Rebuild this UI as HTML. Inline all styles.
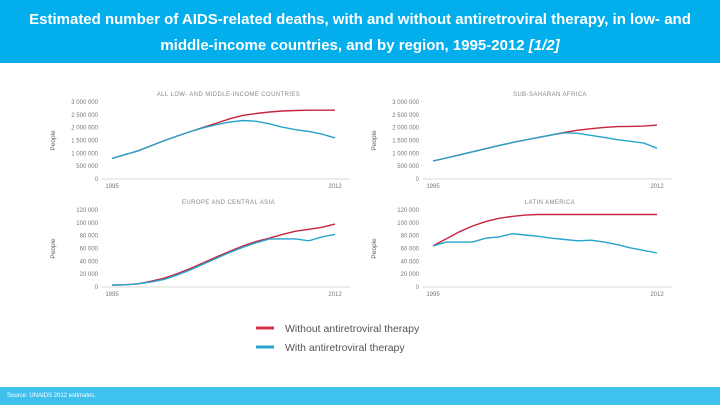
<!DOCTYPE html>
<html><head><meta charset="utf-8">
<style>
body{margin:0;width:720px;height:405px;overflow:hidden;background:#fff;font-family:"Liberation Sans",sans-serif;position:relative}
#hdr{position:absolute;left:0;top:0;width:720px;height:63px;background:#02aeec;color:#fff;text-align:center;font-family:"Liberation Sans","Noto Sans CJK JP",sans-serif;font-size:15px;line-height:26px;padding-top:7px;box-sizing:border-box;font-weight:bold}
#ftr{position:absolute;left:0;top:387px;width:720px;height:18px;background:#3fc1ee;color:#fff;font-size:6px;line-height:18px;padding-left:7px;box-sizing:border-box}
svg{position:absolute;left:0;top:0}
</style></head><body>
<div id="hdr">Estimated number of AIDS-related deaths, with and without antiretroviral therapy, in low- and<br>middle-income countries, and by region, 1995-2012 <i>[1/2]</i></div>
<svg id="chart" width="720" height="405"></svg>
<div id="ftr">Source: UNAIDS 2012 estimates.</div>
<script>
const years=[1995,1996,1997,1998,1999,2000,2001,2002,2003,2004,2005,2006,2007,2008,2009,2010,2011,2012];
const allWithout=[800000,950000,1100000,1300000,1500000,1680000,1850000,2020000,2180000,2350000,2480000,2550000,2610000,2650000,2670000,2680000,2680000,2680000];
const allWith=[800000,950000,1100000,1300000,1500000,1680000,1850000,2000000,2120000,2220000,2280000,2250000,2150000,2020000,1920000,1850000,1750000,1600000];
const ssaWithout=[700000,820000,940000,1060000,1180000,1300000,1420000,1520000,1620000,1720000,1820000,1900000,1960000,2010000,2040000,2050000,2060000,2100000];
const ssaWith=[700000,820000,940000,1060000,1180000,1300000,1420000,1520000,1620000,1720000,1800000,1780000,1700000,1620000,1530000,1470000,1400000,1200000];
const eurWithout=[3000,3500,5000,9000,14000,21000,29000,38000,47000,56000,64000,71000,76000,82000,87000,90000,93000,98000];
const eurWith=[3000,3500,5000,8000,12000,19000,27000,36000,45000,54000,62000,69000,75000,75000,75000,72000,78000,82000];
const laWithout=[64000,75000,86000,95000,102000,107000,110000,112000,113000,113000,113000,113000,113000,113000,113000,113000,113000,113000];
const laWith=[64000,70000,70000,70000,76000,78000,83000,81000,79000,76000,74000,72000,73000,70000,66000,61000,57000,53000];
const bigTicks=["3 000 000","2 500 000","2 000 000","1 500 000","1 000 000","500 000","0"];
const smallTicks=["120 000","100 000","80 000","60 000","40 000","20 000","0"];
const panels=[
 {name:"all-low-middle-income",title:"ALL LOW- AND MIDDLE-INCOME COUNTRIES",x0:112,x1:335,yTop:102,yBot:179,max:3000000,ticks:bigTicks,a:allWithout,b:allWith},
 {name:"sub-saharan-africa",title:"SUB-SAHARAN AFRICA",x0:433,x1:657,yTop:102,yBot:179,max:3000000,ticks:bigTicks,a:ssaWithout,b:ssaWith},
 {name:"europe-central-asia",title:"EUROPE AND CENTRAL ASIA",x0:112,x1:335,yTop:210,yBot:287,max:120000,ticks:smallTicks,a:eurWithout,b:eurWith},
 {name:"latin-america",title:"LATIN AMERICA",x0:433,x1:657,yTop:210,yBot:287,max:120000,ticks:smallTicks,a:laWithout,b:laWith}
];
const NS="http://www.w3.org/2000/svg",svg=document.getElementById('chart');
function mk(t,at,txt){const e=document.createElementNS(NS,t);for(const k in at)e.setAttribute(k,at[k]);if(txt!==undefined)e.textContent=txt;svg.appendChild(e);return e;}
panels.forEach(p=>{
 const xs=i=>p.x0+(p.x1-p.x0)*i/(years.length-1);
 const ys=v=>p.yBot-(p.yBot-p.yTop)*v/p.max;
 let t=mk('text',{x:(p.x0+p.x1)/2+5,y:p.yTop-6,'font-size':6,fill:'#888','text-anchor':'middle','letter-spacing':'0.4'},p.title);
 
 
 let yl=mk('text',{x:0,y:0,'font-size':6.5,fill:'#666','text-anchor':'middle',transform:`translate(${p.x0-57},${(p.yTop+p.yBot)/2}) rotate(-90)`},'People');
 
 
 p.ticks.forEach((lab,i)=>{
  const v=p.max*(1-i/(p.ticks.length-1));
  let e=mk('text',{x:p.x0-14,y:ys(v)+2,'font-size':6,fill:'#777','text-anchor':'end'},lab);
  
  
 });
 let ax=mk('line',{x1:p.x0-10,x2:p.x1+15,y1:p.yBot,y2:p.yBot,stroke:'#ccc','stroke-width':0.8});
 
 
 [[0,'1995'],[years.length-1,'2012']].forEach(([i,l])=>{
  let e=mk('text',{x:xs(i),y:p.yBot+9,'font-size':6,fill:'#777','text-anchor':'middle'},l);
  
  
 });
 [[p.a,'#c8243c','without-art-line'],[p.b,'#25a4cd','with-art-line']].forEach(([arr,c,n])=>{
  const d=arr.map((v,i)=>(i?'L':'M')+xs(i).toFixed(1)+' '+ys(v).toFixed(1)).join(' ');
  let e=mk('path',{d:d,fill:'none',stroke:c,'stroke-width':1.4});
  
  
 });
});
[['#d2334a','Without antiretroviral therapy',328,'legend-without-art'],['#2aa3cc','With antiretroviral therapy',347,'legend-with-art']].forEach(([c,l,y,n])=>{
 let r=mk('rect',{x:256,y:y-1.5,width:18,height:3,fill:c});
 
 
 let t=mk('text',{x:285,y:y+4,'font-size':10.5,fill:'#555'},l);
 
 
});
</script>
</body></html>
